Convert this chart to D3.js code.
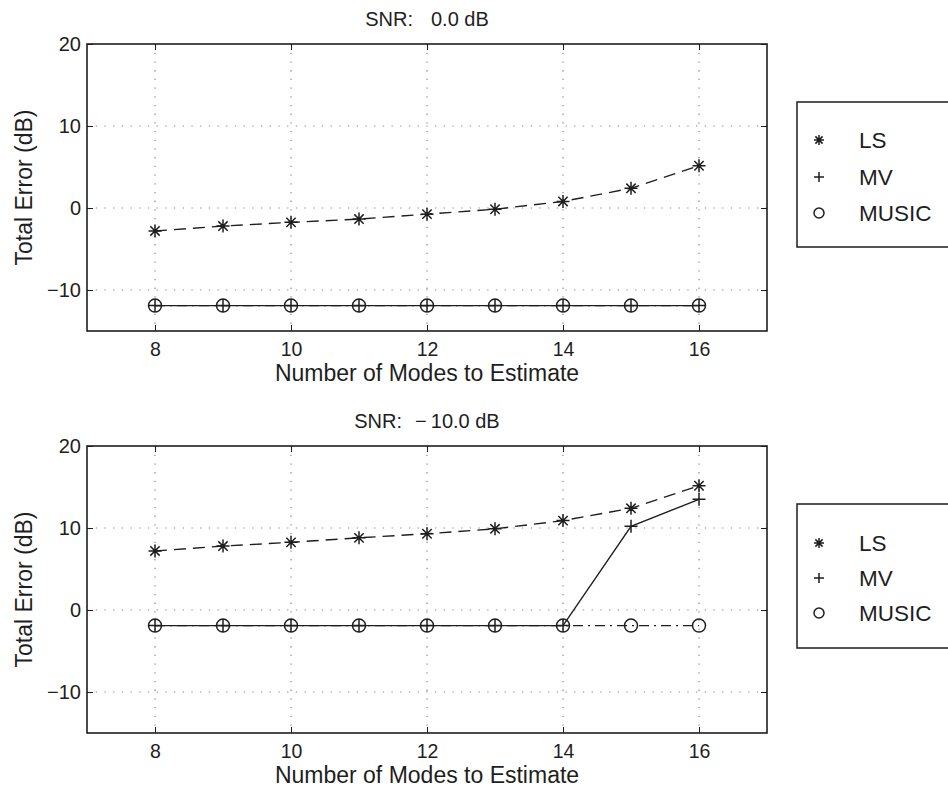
<!DOCTYPE html>
<html><head><meta charset="utf-8">
<script src="https://cdn.jsdelivr.net/npm/d3@7/dist/d3.min.js"></script>
<style>
body{margin:0;background:#fff;}
text{font-family:"Liberation Sans",Arial,Helvetica,sans-serif;fill:#1e1e1e;}
</style></head>
<body><svg id="c" width="948" height="793"></svg>
<script>
const modes = [8, 9, 10, 11, 12, 13, 14, 15, 16];
const xTicks = [8, 10, 12, 14, 16];
const yTicks = [-10, 0, 10, 20];
const snrValues = ["0.0", "\u221210.0"];
const seriesNames = ["LS", "MV", "MUSIC"];
const topLS = [-2.8, -2.2, -1.75, -1.35, -0.75, -0.15, 0.8, 2.4, 5.15];
const topMV = [-11.9, -11.9, -11.9, -11.9, -11.9, -11.9, -11.9, -11.9, -11.9];
const topMUSIC = [-11.9, -11.9, -11.9, -11.9, -11.9, -11.9, -11.9, -11.9, -11.9];
const botLS = [7.2, 7.8, 8.25, 8.8, 9.3, 9.9, 10.9, 12.4, 15.15];
const botMV = [-1.9, -1.9, -1.9, -1.9, -1.9, -1.9, -1.9, 10.2, 13.5];
const botMUSIC = [-1.9, -1.9, -1.9, -1.9, -1.9, -1.9, -1.9, -1.9, -1.9];

const svg = d3.select("#c");
const ink = "#1e1e1e";
const FONT = "Liberation Sans, Arial, sans-serif";
const styles = {
  LS: {dash: "12,7", marker: "star"},
  MV: {dash: null, marker: "plus"},
  MUSIC: {dash: "10,5,2,5", marker: "circle"}
};

function marker(g, type, x, y, r) {
  if (type === "star") {
    const d = r * 0.72;
    g.append("path").attr("d",
      `M${x-r},${y}L${x+r},${y}M${x},${y-r}L${x},${y+r}M${x-d},${y-d}L${x+d},${y+d}M${x-d},${y+d}L${x+d},${y-d}`)
      .attr("stroke", ink).attr("stroke-width", 1.5).attr("fill", "none");
  } else if (type === "plus") {
    g.append("path").attr("d", `M${x-r},${y}L${x+r},${y}M${x},${y-r}L${x},${y+r}`)
      .attr("stroke", ink).attr("stroke-width", 1.5).attr("fill", "none");
  } else {
    g.append("circle").attr("cx", x).attr("cy", y).attr("r", r)
      .attr("stroke", ink).attr("stroke-width", 1.5).attr("fill", "none");
  }
}

function panel(top, snr, data) {
  const L = 87, R = 767, T = top, B = top + 287;
  const x = d3.scaleLinear().domain([7, 17]).range([L, R]);
  const y = d3.scaleLinear().domain([-15, 20]).range([B, T]);
  const g = svg.append("g");

  const grid = g.append("g");
  grid.selectAll("line.gx").data(xTicks).join("line")
    .attr("x1", d => x(d)).attr("x2", d => x(d)).attr("y1", T).attr("y2", B)
    .attr("stroke", "#8a8a8a").attr("stroke-width", 1.2).attr("stroke-dasharray", "1.3,7.4");
  grid.selectAll("line.gy").data(yTicks.filter(v => v < 20)).join("line")
    .attr("x1", L).attr("x2", R).attr("y1", d => y(d)).attr("y2", d => y(d))
    .attr("stroke", "#8a8a8a").attr("stroke-width", 1.2).attr("stroke-dasharray", "1.3,7.4");

  const ax = g.append("g").attr("transform", `translate(0,${B})`)
    .call(d3.axisBottom(x).tickValues(xTicks).tickSizeInner(-6).tickSizeOuter(0).tickPadding(11));
  ax.select(".domain").remove();
  ax.selectAll("text").attr("font-size", "19.5px").attr("fill", ink).attr("font-family", FONT);
  ax.selectAll("line").attr("stroke", ink);
  const axT = g.append("g").attr("transform", `translate(0,${T})`)
    .call(d3.axisTop(x).tickValues(xTicks).tickSizeInner(-6).tickSizeOuter(0).tickFormat(""));
  axT.select(".domain").remove(); axT.selectAll("line").attr("stroke", ink);
  const ay = g.append("g").attr("transform", `translate(${L},0)`)
    .call(d3.axisLeft(y).tickValues(yTicks).tickSizeInner(-6).tickSizeOuter(0).tickPadding(6)
      .tickFormat(d => d < 0 ? "\u2212" + Math.abs(d) : d));
  ay.select(".domain").remove();
  ay.selectAll("text").attr("font-size", "20px").attr("fill", ink).attr("font-family", FONT);
  ay.selectAll("line").attr("stroke", ink);
  const ayR = g.append("g").attr("transform", `translate(${R},0)`)
    .call(d3.axisRight(y).tickValues(yTicks).tickSizeInner(-6).tickSizeOuter(0).tickFormat(""));
  ayR.select(".domain").remove(); ayR.selectAll("line").attr("stroke", ink);

  g.append("rect").attr("x", L).attr("y", T).attr("width", R - L).attr("height", B - T)
    .attr("fill", "none").attr("stroke", ink).attr("stroke-width", 1.6);

  const line = d3.line().x((d, i) => x(modes[i])).y(d => y(d));
  seriesNames.forEach(name => {
    const vals = data[name];
    const st = styles[name];
    g.append("path").attr("d", line(vals)).attr("fill", "none").attr("stroke", ink)
      .attr("stroke-width", 1.4).attr("stroke-dasharray", st.dash);
    vals.forEach((v, i) => marker(g, st.marker, x(modes[i]), y(v), 6.5));
  });

  // title: "SNR:" then the value, spaced like the original
  const t = g.append("text").attr("x", (L + R) / 2).attr("y", T - 18).attr("text-anchor", "middle")
    .attr("font-size", "20px");
  t.append("tspan").text("SNR:");
  if (snr.startsWith("\u2212")) {
    t.append("tspan").attr("dx", 13).text("\u2212");
    t.append("tspan").attr("dx", 4).text(snr.slice(1) + " dB");
  } else {
    t.append("tspan").attr("dx", 18).text(snr + " dB");
  }

  g.append("text").attr("x", (L + R) / 2).attr("y", B + 50).attr("text-anchor", "middle")
    .attr("font-size", "23px").text("Number of Modes to Estimate");
  g.append("text").attr("transform", `translate(32,${(T + B) / 2}) rotate(-90)`)
    .attr("text-anchor", "middle").attr("font-size", "23px").text("Total Error (dB)");
}

panel(44, snrValues[0], {LS: topLS, MV: topMV, MUSIC: topMUSIC});
panel(446, snrValues[1], {LS: botLS, MV: botMV, MUSIC: botMUSIC});

function legend(top, bottom, rows) {
  const g = svg.append("g");
  g.append("rect").attr("x", 797).attr("y", top).attr("width", 200).attr("height", bottom - top)
    .attr("fill", "#fff").attr("stroke", ink).attr("stroke-width", 1.5);
  seriesNames.forEach((name, i) => {
    marker(g, styles[name].marker, 819, rows[i], 5);
    g.append("text").attr("x", 859).attr("y", rows[i]).attr("dy", "0.36em")
      .attr("font-size", "22.5px").text(name);
  });
}
legend(102, 247, [140, 177, 213]);
legend(504, 648, [543, 578, 613]);
</script></body></html>
